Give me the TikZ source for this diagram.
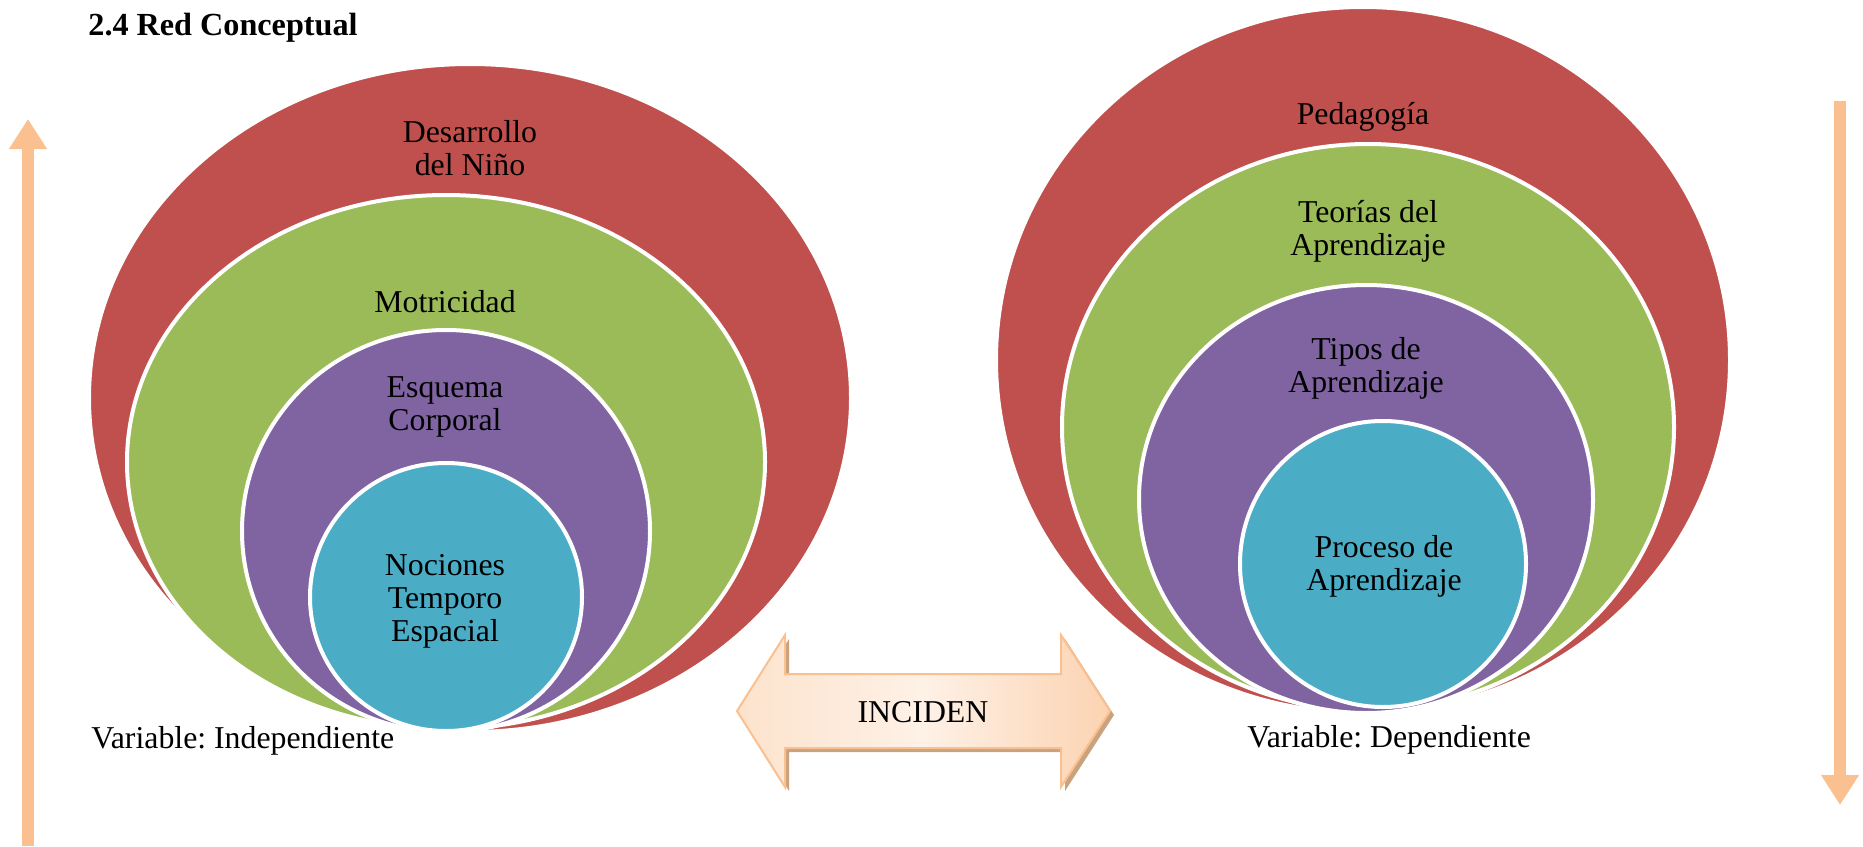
\documentclass[tikz,border=0pt]{standalone}
\usepackage{fontspec}
\setmainfont{Liberation Serif}
\usetikzlibrary{arrows.meta,shadows}

\definecolor{rojo}{HTML}{C0504D}
\definecolor{verde}{HTML}{9BBB59}
\definecolor{morado}{HTML}{8064A2}
\definecolor{celeste}{HTML}{4BACC6}
\definecolor{durazno}{HTML}{FAC090}
\definecolor{sombra}{HTML}{C9A27E}

\frenchspacing

\begin{document}
\begin{tikzpicture}[x=0.5pt,y=-0.5pt,
                    capa/.style={draw=white,line width=2pt},
                    rotulo/.style={align=center,inner sep=0pt,
                                   font=\fontsize{15.9}{16.5}\selectfont},
                    vflecha/.style={draw=durazno,line width=6pt,
                                    -{Triangle[width=18pt,length=15pt]}}]

  \useasboundingbox (0,0) rectangle (1863,846);

  % titulo
  \node[rotulo,anchor=west,font=\fontsize{16.1}{17}\selectfont\bfseries] (titulo) at (88,28) {2.4 Red Conceptual};

  % flechas laterales
  \coordinate (ind-a) at (28,846);
  \coordinate (ind-b) at (28,119);
  \coordinate (dep-a) at (1840,101);
  \coordinate (dep-b) at (1840,805);
  \draw[vflecha] (ind-a) -- (ind-b);
  \draw[vflecha] (dep-a) -- (dep-b);

  % variable independiente
  \filldraw[capa,fill=rojo]    (470,398) ellipse [x radius=381, y radius=334];
  \filldraw[capa,fill=verde]   (446,462) ellipse [x radius=319, y radius=267];
  \filldraw[capa,fill=morado]  (446,531) ellipse [x radius=204, y radius=201];
  \filldraw[capa,fill=celeste] (446,597) ellipse [x radius=136, y radius=134];

  \node[rotulo] (ninio)    at (470,148) {Desarrollo\\del Niño};
  \node[rotulo] (motric)   at (445,302) {Motricidad};
  \node[rotulo] (esquema)  at (445,407) {Esquema\\Corporal};
  \node[rotulo] (nociones) at (445,601) {Nociones\\Temporo\\Espacial};
  \node[rotulo,anchor=west] (varind) at (91,741) {Variable: Independiente};

  % variable dependiente
  \filldraw[capa,fill=rojo]    (1363,360) ellipse [x radius=367, y radius=353];
  \filldraw[capa,fill=verde]   (1368,427) ellipse [x radius=306, y radius=283];
  \filldraw[capa,fill=morado]  (1366,499) ellipse [x radius=227, y radius=214];
  \filldraw[capa,fill=celeste] (1383,564) ellipse [x radius=143, y radius=143];

  \node[rotulo] (pedagogia) at (1363,117) {Pedagogía};
  \node[rotulo] (teorias)   at (1368,231) {Teorías del\\Aprendizaje};
  \node[rotulo] (tipos)     at (1366,368) {Tipos de\\Aprendizaje};
  \node[rotulo] (proceso)   at (1384,566) {Proceso de\\Aprendizaje};
  \node[rotulo,anchor=west] (vardep) at (1247,740) {Variable: Dependiente};

  % flecha doble
  \path[draw=durazno,line width=1pt,
        left color=durazno!45,right color=durazno!70,middle color=durazno!22,
        drop shadow={shadow xshift=2pt,shadow yshift=-2pt,fill=sombra,opacity=1}]
    (737,711) -- (785,635) -- (785,674) -- (1061,674) -- (1061,635) -- (1110,711)
    -- (1061,787) -- (1061,748) -- (785,748) -- (785,787) -- cycle;
  \node[rotulo] (inciden) at (923,712) {INCIDEN};

\end{tikzpicture}
\end{document}
